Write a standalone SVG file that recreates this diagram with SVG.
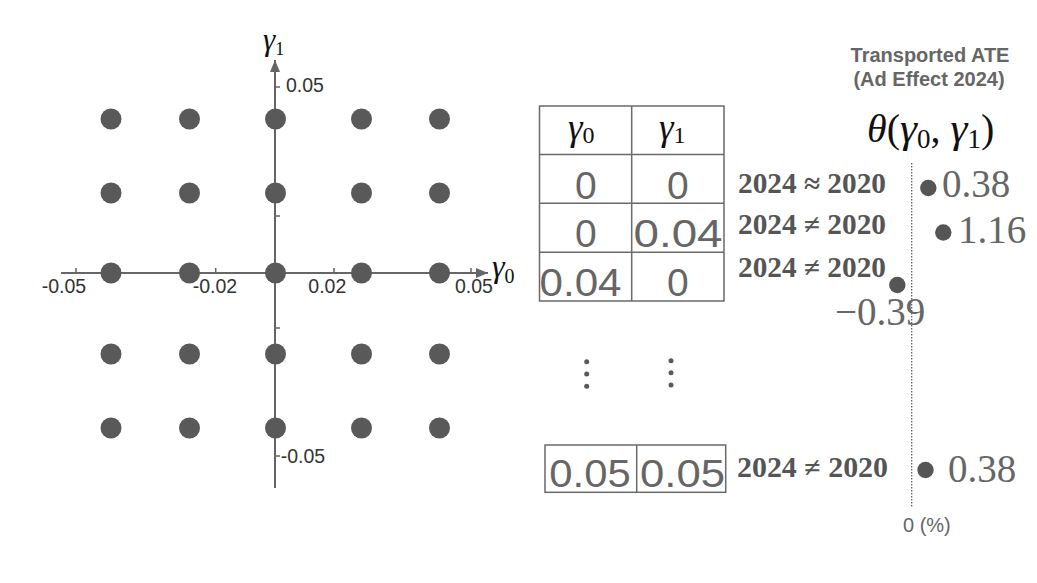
<svg xmlns="http://www.w3.org/2000/svg" width="1037" height="583" viewBox="0 0 1037 583">
<defs>
<marker id="arr" viewBox="0 0 12 10" refX="12" refY="5" markerWidth="12" markerHeight="10" markerUnits="userSpaceOnUse" orient="auto"><path d="M0,0 L12,5 L0,10 z" fill="#666"/></marker>
</defs>
<style>
.ax{stroke:#666;stroke-width:2;fill:none}
.tk{stroke:#666;stroke-width:1.5;fill:none}
.al{font-family:"Liberation Sans",Arial,sans-serif;font-size:19.5px;fill:#333}
.pt{fill:#595959}
.gm{font-family:"Liberation Serif","DejaVu Serif",serif;font-style:italic;fill:#111}
.sub{font-style:normal}
.cell{fill:#fff;stroke:#6a6a6a;stroke-width:1.5}
.num{font-family:"Liberation Sans",Arial,sans-serif;font-size:39px;fill:#666;text-anchor:middle}
.cmp{font-family:"Liberation Serif","Times New Roman",serif;font-weight:bold;font-size:28.5px;fill:#555}
.val{font-family:"Liberation Serif","Times New Roman",serif;font-size:39px;fill:#666}
.hd{font-family:"Liberation Sans",Arial,sans-serif;font-weight:bold;font-size:20px;fill:#666;text-anchor:middle}
.vd{fill:#555}
.dd{fill:#595959}
</style>
<rect x="0" y="0" width="1037" height="583" fill="#fff"/>

<g id="connectors">
  <line class="ax" x1="61" y1="273" x2="488" y2="273" marker-end="url(#arr)"/>
  <line class="ax" x1="275" y1="488" x2="275" y2="60" marker-end="url(#arr)"/>
  <path class="tk" d="M76,273V268 M215.7,273V268 M334,273V268 M471,273V268 M275,87H280 M275,216H280 M275,328H280 M275,456H280"/>
  <line x1="911.7" y1="163" x2="911.7" y2="508" stroke="#555" stroke-width="1.2" stroke-dasharray="1.5,1.5"/>
</g>

<g id="axis-labels">
  <text class="al" x="41.7" y="293">-0.05</text>
  <text class="al" x="192.7" y="293">-0.02</text>
  <text class="al" x="308.3" y="293">0.02</text>
  <text class="al" x="455" y="293">0.05</text>
  <text class="al" x="286" y="92">0.05</text>
  <text class="al" x="280.7" y="463">-0.05</text>
  <text class="gm" x="263" y="50" font-size="31">γ<tspan class="sub" font-size="18" dy="5">1</tspan></text>
  <text class="gm" x="492" y="277" font-size="32">γ<tspan class="sub" font-size="20" dy="6">0</tspan></text>
</g>

<g id="grid-points">
  <g id="row1">
    <circle class="pt" cx="111" cy="119" r="10.5"/><circle class="pt" cx="189.5" cy="119" r="10.5"/><circle class="pt" cx="275.5" cy="119" r="10.5"/><circle class="pt" cx="361.5" cy="119" r="10.5"/><circle class="pt" cx="439.5" cy="119" r="10.5"/>
  </g>
  <g id="row2">
    <circle class="pt" cx="111" cy="193" r="10.5"/><circle class="pt" cx="189.5" cy="193" r="10.5"/><circle class="pt" cx="275.5" cy="193" r="10.5"/><circle class="pt" cx="361.5" cy="193" r="10.5"/><circle class="pt" cx="439.5" cy="193" r="10.5"/>
  </g>
  <g id="row3">
    <circle class="pt" cx="111" cy="273" r="10.5"/><circle class="pt" cx="189.5" cy="273" r="10.5"/><circle class="pt" cx="275.5" cy="273" r="10.5"/><circle class="pt" cx="361.5" cy="273" r="10.5"/><circle class="pt" cx="439.5" cy="273" r="10.5"/>
  </g>
  <g id="row4">
    <circle class="pt" cx="111" cy="354" r="10.5"/><circle class="pt" cx="189.5" cy="354" r="10.5"/><circle class="pt" cx="275.5" cy="354" r="10.5"/><circle class="pt" cx="361.5" cy="354" r="10.5"/><circle class="pt" cx="439.5" cy="354" r="10.5"/>
  </g>
  <g id="row5">
    <circle class="pt" cx="111" cy="428" r="10.5"/><circle class="pt" cx="189.5" cy="428" r="10.5"/><circle class="pt" cx="275.5" cy="428" r="10.5"/><circle class="pt" cx="361.5" cy="428" r="10.5"/><circle class="pt" cx="439.5" cy="428" r="10.5"/>
  </g>
</g>

<g id="table">
  <rect class="cell" x="539.5" y="106" width="184.5" height="195"/>
  <path d="M631.7,106V301 M539.5,154.5H724 M539.5,203.3H724 M539.5,252.3H724" stroke="#6a6a6a" stroke-width="1.5" fill="none"/>
  <text class="gm" x="568" y="140" font-size="37">γ<tspan class="sub" font-size="24" dy="3">0</tspan></text>
  <text class="gm" x="659" y="140" font-size="37">γ<tspan class="sub" font-size="24" dy="3">1</tspan></text>
  <text class="num" x="585.8" y="199.3">0</text>
  <text class="num" x="677.8" y="199.3">0</text>
  <text class="num" x="585.8" y="247.3">0</text>
  <text class="num" x="678" y="247.3" textLength="89" lengthAdjust="spacingAndGlyphs">0.04</text>
  <text class="num" x="580.5" y="296" textLength="82" lengthAdjust="spacingAndGlyphs">0.04</text>
  <text class="num" x="677.8" y="296">0</text>
</g>

<g id="ellipsis">
  <circle class="dd" cx="586.7" cy="361.7" r="2.5"/><circle class="dd" cx="586.7" cy="373.9" r="2.5"/><circle class="dd" cx="586.7" cy="386.3" r="2.5"/>
  <circle class="dd" cx="671" cy="360.7" r="2.5"/><circle class="dd" cx="671" cy="372.8" r="2.5"/><circle class="dd" cx="671" cy="385" r="2.5"/>
</g>

<g id="last-row">
  <rect class="cell" x="545" y="445" width="180.7" height="47.3"/>
  <line x1="636.7" y1="445" x2="636.7" y2="492.3" stroke="#6a6a6a" stroke-width="1.5"/>
  <text class="num" x="590" y="486.7" textLength="81.4" lengthAdjust="spacingAndGlyphs">0.05</text>
  <text class="num" x="682.5" y="486.7" textLength="85" lengthAdjust="spacingAndGlyphs">0.05</text>
</g>

<g id="ate-header">
  <text class="hd" x="930" y="62">Transported ATE</text>
  <text class="hd" x="929" y="86">(Ad Effect 2024)</text>
  <text class="gm" x="867" y="142" font-size="40">θ<tspan class="sub">(</tspan><tspan font-size="43">γ</tspan><tspan class="sub" font-size="27" dy="6">0</tspan><tspan class="sub" dy="-6">, </tspan><tspan font-size="43">γ</tspan><tspan class="sub" font-size="27" dy="6">1</tspan><tspan class="sub" dy="-6">)</tspan></text>
</g>

<g id="result1">
  <text class="cmp" x="738" y="193" textLength="148" lengthAdjust="spacingAndGlyphs">2024 ≈ 2020</text>
  <circle class="vd" cx="928.3" cy="188" r="8.2"/>
  <text class="val" x="942" y="197">0.38</text>
</g>
<g id="result2">
  <text class="cmp" x="738" y="234" textLength="148" lengthAdjust="spacingAndGlyphs">2024 ≠ 2020</text>
  <circle class="vd" cx="943.3" cy="232.5" r="8.2"/>
  <text class="val" x="958" y="243">1.16</text>
</g>
<g id="result3">
  <text class="cmp" x="738" y="277" textLength="148" lengthAdjust="spacingAndGlyphs">2024 ≠ 2020</text>
  <circle class="vd" cx="897.3" cy="285" r="8.2"/>
  <text class="val" x="835" y="325">−0.39</text>
</g>
<g id="result4">
  <text class="cmp" x="737" y="477" textLength="151" lengthAdjust="spacingAndGlyphs">2024 ≠ 2020</text>
  <circle class="vd" cx="925.5" cy="470" r="8.2"/>
  <text class="val" x="948" y="482">0.38</text>
</g>
<text x="903" y="532" font-family="Liberation Sans, Arial, sans-serif" font-size="20" fill="#666">0 (%)</text>
</svg>
